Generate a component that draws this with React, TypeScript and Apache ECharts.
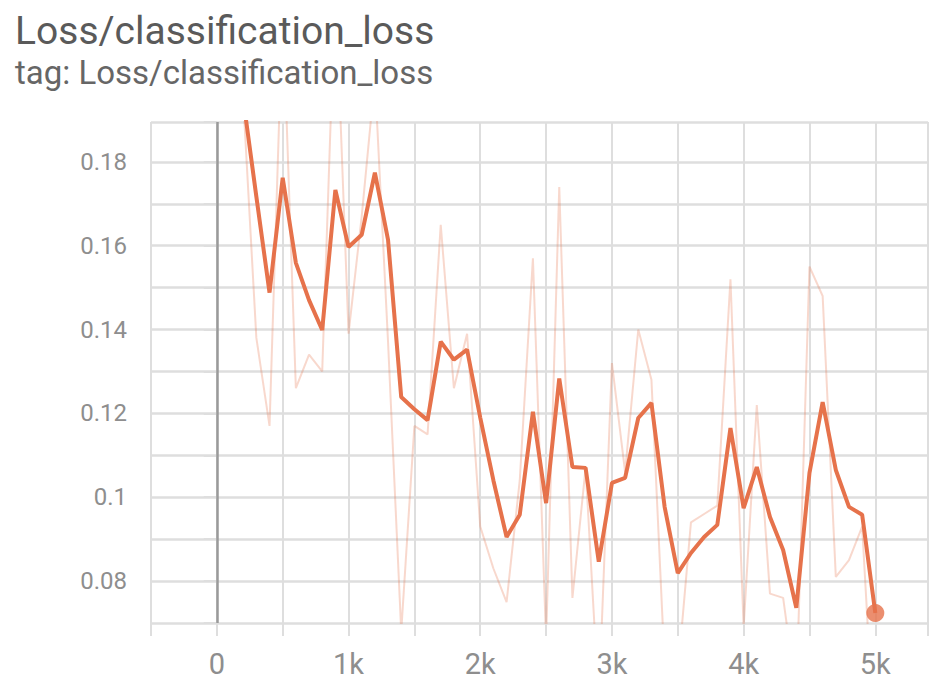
import React, { useEffect, useRef } from "react";
import * as echarts from "echarts";

const TITLE = "Loss/classification_loss";
const SUBTITLE = "tag: Loss/classification_loss";

const steps = [
  200, 300, 400, 500, 600, 700, 800, 900, 1000, 1100, 1200, 1300, 1400, 1500, 1600, 1700,
  1800, 1900, 2000, 2100, 2200, 2300, 2400, 2500, 2600, 2700, 2800, 2900, 3000, 3100, 3200,
  3300, 3400, 3500, 3600, 3700, 3800, 3900, 4000, 4100, 4200, 4300, 4400, 4500, 4600, 4700,
  4800, 4900, 5000,
];

const rawLoss = [
  0.195, 0.138, 0.117, 0.217, 0.126, 0.134, 0.13, 0.223, 0.139, 0.167, 0.2, 0.137, 0.068,
  0.117, 0.115, 0.165, 0.126, 0.139, 0.093, 0.083, 0.075, 0.104, 0.157, 0.066, 0.174, 0.076,
  0.107, 0.051, 0.132, 0.106, 0.14, 0.128, 0.06, 0.058, 0.094, 0.096, 0.098, 0.152, 0.069,
  0.122, 0.077, 0.076, 0.053, 0.155, 0.148, 0.081, 0.085, 0.093, 0.037,
];

const smoothedLoss = [
  0.195, 0.1717, 0.1488, 0.1762, 0.1559, 0.147, 0.1399, 0.1733, 0.1597, 0.1626, 0.1774,
  0.1614, 0.1239, 0.121, 0.1184, 0.1371, 0.1328, 0.1352, 0.119, 0.104, 0.0905, 0.0958,
  0.1204, 0.0986, 0.1283, 0.1072, 0.107, 0.0846, 0.1034, 0.1046, 0.1189, 0.1225, 0.0977,
  0.0819, 0.0867, 0.0905, 0.0934, 0.1165, 0.0974, 0.1072, 0.0953, 0.0874, 0.0736, 0.1058,
  0.1227, 0.1065, 0.0977, 0.0958, 0.0724,
];

const LINE_COLOR = "#e6724b";
const GRID_COLOR = "#dedede";
const LABEL_COLOR = "#8e8e8e";
const FONT = "Roboto";

export default function App() {
  const ref = useRef<HTMLDivElement>(null);

  useEffect(() => {
    if (!ref.current) return;
    const chart = echarts.init(ref.current, undefined, { renderer: "svg" });
    const rawData = steps.map((s, i) => [s, rawLoss[i]]);
    const smoothData = steps.map((s, i) => [s, smoothedLoss[i]]);
    const last = steps.length - 1;

    chart.setOption({
      animation: false,
      backgroundColor: "#ffffff",
      title: {
        text: TITLE,
        subtext: SUBTITLE,
        left: 10,
        top: 6,
        itemGap: 6,
        textStyle: { fontFamily: FONT, fontSize: 39, fontWeight: "normal", color: "#5a5a5a" },
        subtextStyle: { fontFamily: FONT, fontSize: 33, color: "#666666" },
      },
      grid: { left: 151, right: 2, top: 122, bottom: 62, containLabel: false },
      xAxis: {
        type: "value",
        min: -500,
        max: 5400,
        interval: 500,
        axisLine: { show: false },
        axisTick: { show: true, length: 13, lineStyle: { color: GRID_COLOR, width: 2 } },
        splitLine: { show: true, lineStyle: { color: GRID_COLOR, width: 2 } },
        axisLabel: {
          margin: 26,
          fontFamily: FONT,
          fontSize: 29,
          color: LABEL_COLOR,
          formatter: (v: number) =>
            Math.abs(v % 1000) < 1e-6 ? (v === 0 ? "0" : v / 1000 + "k") : "",
        },
      },
      yAxis: {
        type: "value",
        min: 0.07,
        max: 0.1895,
        interval: 0.01,
        axisLine: { show: false },
        axisTick: { show: true, length: 13, lineStyle: { color: GRID_COLOR, width: 2 } },
        splitLine: { show: true, lineStyle: { color: GRID_COLOR, width: 2.5 } },
        axisLabel: {
          margin: 24,
          fontFamily: FONT,
          fontSize: 24,
          color: LABEL_COLOR,
          formatter: (v: number) => {
            const h = v * 100;
            const r = Math.round(h);
            if (Math.abs(h - r) > 1e-6 || r % 2 !== 0) return "";
            return String(r / 100);
          },
        },
      },
      series: [
        {
          type: "line",
          name: "raw",
          data: rawData,
          showSymbol: false,
          clip: true,
          lineStyle: { color: LINE_COLOR, width: 2, opacity: 0.28 },
          itemStyle: { color: LINE_COLOR },
          silent: true,
          markLine: {
            silent: true,
            symbol: ["none", "none"],
            label: { show: false },
            lineStyle: { color: "#9a9a9a", width: 2.5, type: "solid" },
            data: [{ xAxis: 0 }],
          },
          z: 2,
        },
        {
          type: "line",
          name: "smoothed",
          data: smoothData,
          showSymbol: false,
          clip: true,
          lineStyle: { color: LINE_COLOR, width: 4 },
          itemStyle: { color: LINE_COLOR },
          silent: true,
          z: 3,
        },
        {
          type: "scatter",
          name: "last",
          data: [smoothData[last]],
          symbol: "circle",
          symbolSize: 18,
          itemStyle: { color: LINE_COLOR },
          silent: true,
          z: 4,
        },
      ],
    });

    return () => chart.dispose();
  }, []);

  return (
    <div
      ref={ref}
      style={{ position: "fixed", left: 0, top: 0, width: 931, height: 685, background: "#fff" }}
    />
  );
}
